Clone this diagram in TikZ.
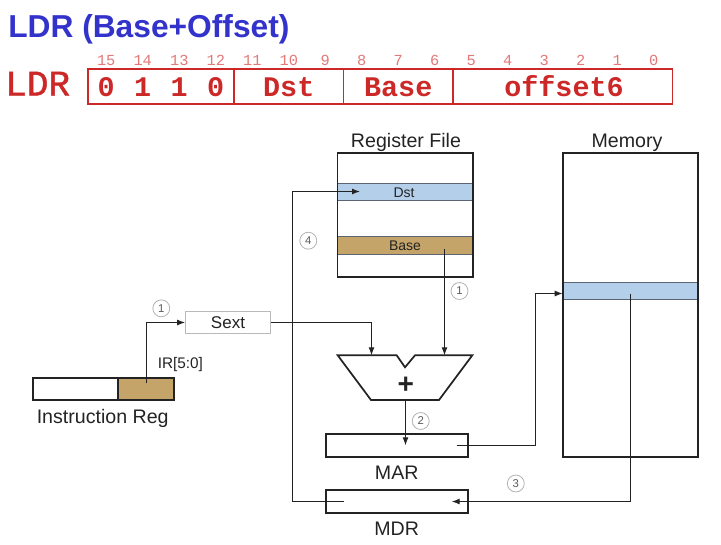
\documentclass[tikz,border=0pt]{standalone}
\usepackage{fontspec}
\setmainfont{Liberation Sans}
\newfontfamily\monofnt{Liberation Mono}
\newfontfamily\monofntsb[FakeBold=1.2]{Liberation Mono}
\usetikzlibrary{arrows.meta}
\definecolor{ttlblue}{RGB}{51,51,204}
\definecolor{ldrred}{RGB}{204,40,40}
\definecolor{bitred}{RGB}{226,120,120}
\definecolor{rowblue}{RGB}{180,207,234}
\definecolor{rowtan}{RGB}{196,164,104}
\definecolor{rowedge}{RGB}{90,100,115}
\definecolor{ink}{RGB}{35,35,35}
\tikzset{
  pxbox/.style 2 args={rectangle, inner sep=0pt, minimum width=#1*0.75pt, minimum height=#2*0.75pt},
  unitbox/.style={draw=ink, line width=1.4pt, fill=white},
  fieldbox/.style={draw=ldrred, line width=1.3pt},
  rowbox/.style={draw=rowedge, line width=0.9pt},
  conn/.style={draw=ink, line width=0.8pt},
  arr/.style={conn, -{Latex[length=6pt,width=4.5pt]}},
  stepnum/.style={circle, draw=gray!60, line width=0.6pt, minimum size=12.7pt, inner sep=0pt,
    font=\fontsize{8.5}{9}\selectfont, text=ink!75},
  lbl/.style={anchor=base, font=\fontsize{14.7}{16}\selectfont, text=ink, inner sep=0pt},
  bitnum/.style={anchor=base, font=\monofnt\fontsize{11.5}{12}\selectfont, text=bitred, inner sep=0pt},
  fieldtxt/.style={anchor=base, font=\monofnt\bfseries\fontsize{21.3}{23}\selectfont, text=ldrred, inner sep=0pt},
}
\begin{document}
\begin{tikzpicture}[x=0.75pt,y=-0.75pt]
\useasboundingbox (0,0) rectangle (721,544);

% ---------- header ----------
\node[anchor=base west, inner sep=0pt, text=ttlblue, font=\bfseries\fontsize{23.8}{26}\selectfont] (title) at (8,37.7) {LDR (Base+Offset)};
\node[anchor=base west, inner sep=0pt, text=ldrred, font=\monofntsb\fontsize{27}{28}\selectfont] (ldr) at (5,95.5) {LDR};

\node[pxbox={146}{35}, fieldbox] (fop)  at (161,86.3) {};
\node[pxbox={109.5}{35}, fieldbox] (fdst) at (288.75,86.3) {};
\node[pxbox={109.5}{35}, fieldbox] (fbase) at (398.25,86.3) {};
\node[pxbox={219.5}{35}, fieldbox] (foff) at (562.75,86.3) {};

\foreach \i in {0,...,15} {
  \node[bitnum] (bit\i) at ({88+36.5*(15-\i+0.5)},65.7) {\i};
}
\node[fieldtxt] (op0) at (106.25,96.7) {0};
\node[fieldtxt] (op1) at (142.75,96.7) {1};
\node[fieldtxt] (op2) at (179.25,96.7) {1};
\node[fieldtxt] (op3) at (215.75,96.7) {0};
\node[fieldtxt] (tdst) at (288.75,96.7) {Dst};
\node[fieldtxt] (tbase) at (398.25,96.7) {Base};
\node[fieldtxt] (toff) at (564,96.7) {offset6};

% ---------- register file ----------
\node[pxbox={135.5}{124}, fill=white] (rfbg) at (405.3,214.7) {};
\node[pxbox={135.5}{17.5}, rowbox, fill=rowblue] (dst) at (405.3,192.1) {};
\node[pxbox={135.5}{17.5}, rowbox, fill=rowtan] (base) at (405.3,245.5) {};
\node[pxbox={135.5}{124}, draw=ink, line width=1.4pt] (rf) at (405.3,214.7) {};
\node[anchor=base, inner sep=0pt, font=\fontsize{10.5}{12}\selectfont, text=ink] (dstt) at (404,197.7) {Dst};
\node[anchor=base, inner sep=0pt, font=\fontsize{10.5}{12}\selectfont, text=ink] (baset) at (405,250.7) {Base};
\node[lbl] (rflbl) at (406,147.3) {Register File};

% ---------- memory ----------
\node[pxbox={135.6}{304}, fill=white] (membg) at (630.5,304.7) {};
\node[pxbox={135.6}{16.6}, rowbox, fill=rowblue] (memrow) at (630.5,291) {};
\node[pxbox={135.6}{304}, draw=ink, line width=1.4pt] (mem) at (630.5,304.7) {};
\node[lbl] (memlbl) at (627,147.3) {Memory};

% ---------- instruction register ----------
\node[pxbox={85}{22}, unitbox] (irl) at (75.8,389.3) {};
\node[pxbox={56}{22}, unitbox, fill=rowtan] (irr) at (146.3,389.3) {};
\node[lbl] (irlbl) at (102.7,423.3) {Instruction Reg};
\node[anchor=base west, inner sep=0pt, font=\fontsize{11.5}{13}\selectfont, text=ink] (irbits) at (157.5,368.3) {IR[5:0]};

% ---------- sext ----------
\node[pxbox={84.6}{22.6}, draw=gray!55, line width=0.9pt, fill=white] (sext) at (228,322.5) {};
\node[anchor=base, inner sep=0pt, font=\fontsize{12.75}{14}\selectfont, text=ink] (sextt) at (228,328.3) {Sext};

% ---------- adder ----------
\draw[draw=ink, line width=1.3pt, line join=miter]
  (337.7,355.3) coordinate (alutl) -- (396.7,355.3) -- (405,367.3) -- (415,355.3)
  -- (472.3,355.3) coordinate (alutr) -- (439,400) coordinate (alubr)
  -- (371,400) coordinate (alubl) -- cycle;
\coordinate (aluinA) at (371.5,355.3);
\coordinate (aluinB) at (444.5,355.3);
\coordinate (aluout) at (405.5,400);
\node[inner sep=0pt, font=\bfseries\fontsize{21}{22}\selectfont, text=ink] (plus) at (405.7,385.2) {+};

% ---------- MAR / MDR ----------
\node[pxbox={141.7}{22.7}, unitbox] (mar) at (396.8,445.3) {};
\node[lbl] (marlbl) at (396.7,479.3) {MAR};
\node[pxbox={141.7}{22.4}, unitbox] (mdr) at (396.8,501.5) {};
\node[lbl] (mdrlbl) at (396.7,535.3) {MDR};

% ---------- connector end points inside boxes ----------
\coordinate (irsrc) at (146.5,383.3);
\coordinate (basesrc) at (444.5,249);
\coordinate (marin) at (405.5,445.3);
\coordinate (marsrc) at (456.5,445.5);
\coordinate (memsrc) at (630.5,293.5);
\coordinate (mdrin) at (451.7,501.5);
\coordinate (mdrsrc) at (343.5,501.5);
\coordinate (dstin) at (360,191.5);
\coordinate (memin) at (562.7,293.5);

% ---------- connectors ----------
\draw[arr] (irsrc) |- (sext.west);
\draw[arr] (sext.east) -| (aluinA);
\draw[arr] (basesrc) -- (aluinB);
\draw[arr] (aluout) -- (marin);
\draw[arr] (marsrc) -- ++(79,0) |- (memin);
\draw[arr] (memsrc) |- (mdrin);
\draw[arr] (mdrsrc) -- ++(-51,0) |- (dstin);

% ---------- step numbers ----------
\node[stepnum] (s1a) at (161.3,308.3) {1};
\node[stepnum] (s1b) at (459.5,291) {1};
\node[stepnum] (s2) at (420.7,421) {2};
\node[stepnum] (s3) at (515.8,483.5) {3};
\node[stepnum] (s4) at (308.3,240.7) {4};
\end{tikzpicture}
\end{document}
